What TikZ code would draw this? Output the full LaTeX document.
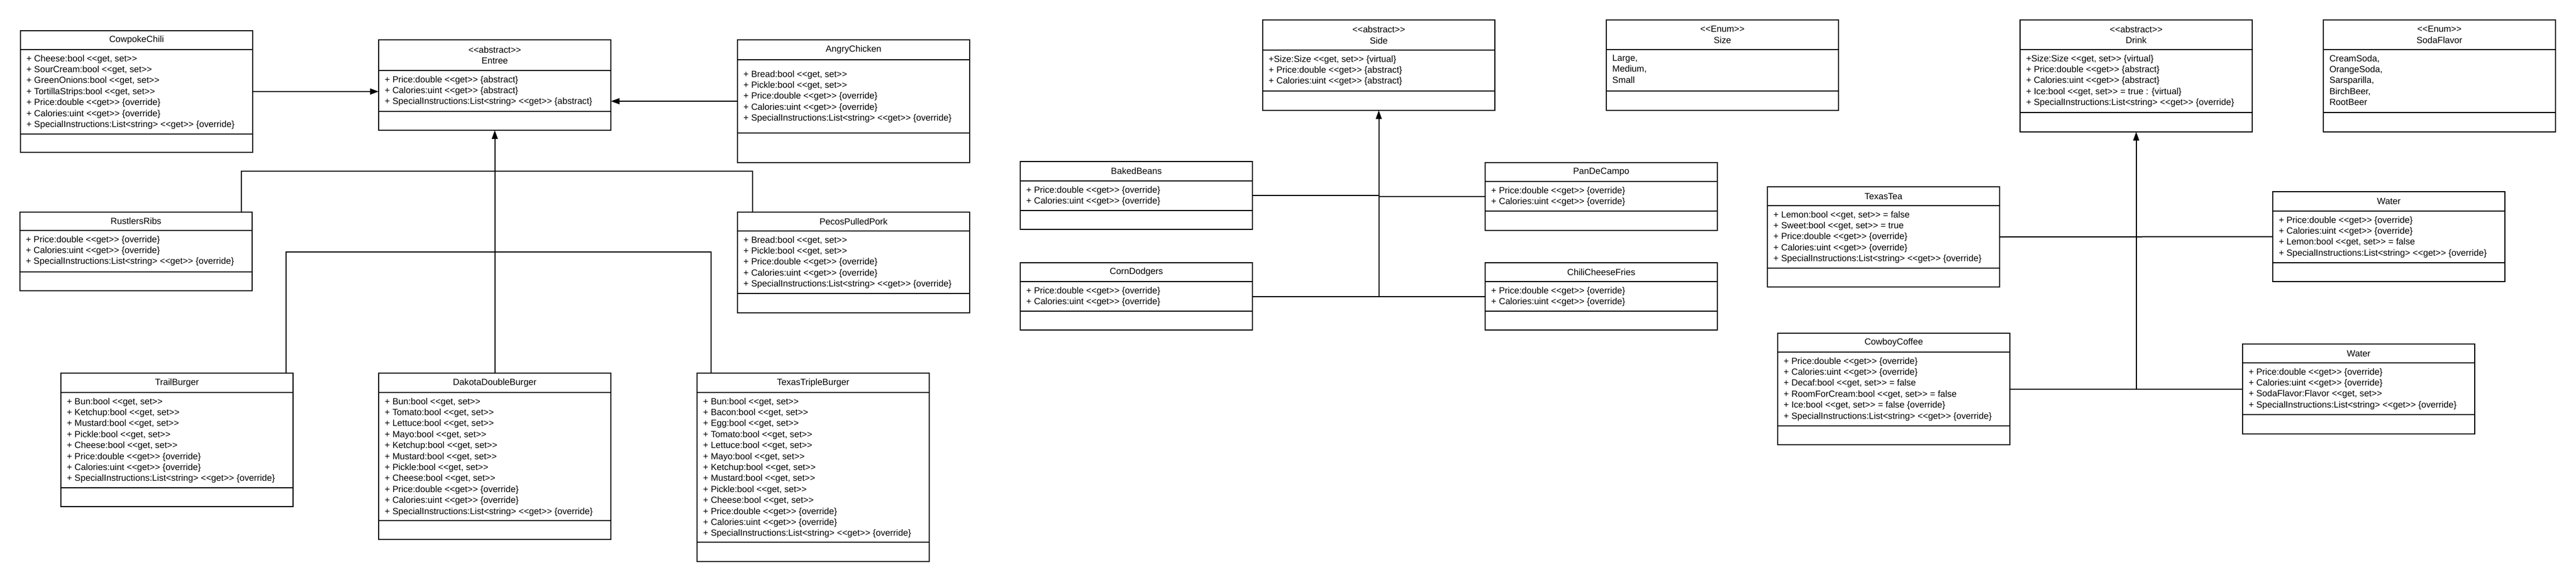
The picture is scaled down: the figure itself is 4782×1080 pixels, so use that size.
\documentclass[tikz,border=0pt]{standalone}
\usepackage{fontspec}
\newfontfamily\umlfont{Liberation Sans}
\usetikzlibrary{arrows.meta}

\tikzset{
  classbox/.style={draw, line width=2pt, minimum width=431pt, inner sep=0pt, outer sep=0pt},
  toprule/.style={line width=2pt},
  midrule/.style={line width=1.3pt},
  titletext/.style={font=\umlfont\fontsize{16.6}{20.4}\selectfont, align=center, inner sep=0pt},
  attrtext/.style={font=\umlfont\fontsize{16.6}{20.4}\selectfont, align=left, anchor=north west, inner sep=0pt},
  link/.style={line width=2pt},
  inherit/.style={line width=2pt, -{Triangle[length=16pt,width=11pt]}},
}

% [pad]{name}{x}{y}{title h}{attr h}{total h}{title}{attributes}
\newcommand{\umlclass}[9][0]{%
  \node[classbox, minimum height=#7pt, anchor=north west] (#2) at (#3,#4) {};
  \draw[toprule] ([yshift=-#5pt]#2.north west) -- ([yshift=-#5pt]#2.north east);
  \draw[midrule] ([yshift=-#5pt-#6pt]#2.north west) -- ([yshift=-#5pt-#6pt]#2.north east);
  \node[titletext] (#2-t) at ([yshift=-#5pt/2]#2.north) {#8};
  \node[attrtext] (#2-a) at ([xshift=11pt,yshift=-#5pt-9.8pt-#1pt]#2.north west) {#9};
}

\begin{document}
\begin{tikzpicture}[x=1pt,y=-1pt]
  \path[use as bounding box, fill=white] (0,0) rectangle (4782,1080);

  % entrees
  \umlclass{cowpoke}{38}{57}{35}{157}{226}{CowpokeChili}{+ Cheese:bool <<get, set>>\\+ SourCream:bool <<get, set>>\\+ GreenOnions:bool <<get, set>>\\+ TortillaStrips:bool <<get, set>>\\+ Price:double <<get>> \{override\}\\+ Calories:uint <<get>> \{override\}\\+ SpecialInstructions:List<string> <<get>> \{override\}}
  \umlclass{entree}{703}{74}{57}{76}{168}{<<abstract>>\\Entree}{+ Price:double <<get>> \{abstract\}\\+ Calories:uint <<get>> \{abstract\}\\+ SpecialInstructions:List<string> <<get>> \{abstract\}}
  \umlclass[10]{angry}{1369}{74}{37}{136}{228}{AngryChicken}{+ Bread:bool <<get, set>>\\+ Pickle:bool <<get, set>>\\+ Price:double <<get>> \{override\}\\+ Calories:uint <<get>> \{override\}\\+ SpecialInstructions:List<string> <<get>> \{override\}}
  \umlclass{ribs}{37}{394}{34}{77}{146}{RustlersRibs}{+ Price:double <<get>> \{override\}\\+ Calories:uint <<get>> \{override\}\\+ SpecialInstructions:List<string> <<get>> \{override\}}
  \umlclass{pecos}{1369}{394}{35}{116}{187}{PecosPulledPork}{+ Bread:bool <<get, set>>\\+ Pickle:bool <<get, set>>\\+ Price:double <<get>> \{override\}\\+ Calories:uint <<get>> \{override\}\\+ SpecialInstructions:List<string> <<get>> \{override\}}
  \umlclass{trail}{113}{693}{36}{177}{248}{TrailBurger}{+ Bun:bool <<get, set>>\\+ Ketchup:bool <<get, set>>\\+ Mustard:bool <<get, set>>\\+ Pickle:bool <<get, set>>\\+ Cheese:bool <<get, set>>\\+ Price:double <<get>> \{override\}\\+ Calories:uint <<get>> \{override\}\\+ SpecialInstructions:List<string> <<get>> \{override\}}
  \umlclass{dakota}{703}{693}{36}{238}{309}{DakotaDoubleBurger}{+ Bun:bool <<get, set>>\\+ Tomato:bool <<get, set>>\\+ Lettuce:bool <<get, set>>\\+ Mayo:bool <<get, set>>\\+ Ketchup:bool <<get, set>>\\+ Mustard:bool <<get, set>>\\+ Pickle:bool <<get, set>>\\+ Cheese:bool <<get, set>>\\+ Price:double <<get>> \{override\}\\+ Calories:uint <<get>> \{override\}\\+ SpecialInstructions:List<string> <<get>> \{override\}}
  \umlclass{texastriple}{1294}{693}{36}{278}{350}{TexasTripleBurger}{+ Bun:bool <<get, set>>\\+ Bacon:bool <<get, set>>\\+ Egg:bool <<get, set>>\\+ Tomato:bool <<get, set>>\\+ Lettuce:bool <<get, set>>\\+ Mayo:bool <<get, set>>\\+ Ketchup:bool <<get, set>>\\+ Mustard:bool <<get, set>>\\+ Pickle:bool <<get, set>>\\+ Cheese:bool <<get, set>>\\+ Price:double <<get>> \{override\}\\+ Calories:uint <<get>> \{override\}\\+ SpecialInstructions:List<string> <<get>> \{override\}}

  \coordinate (ribsjoin) at (919,318);
  \coordinate (burgerjoin) at (919,468);
  \draw[inherit] (cowpoke.east) -- (cowpoke.east -| entree.west);
  \draw[inherit] (angry.west) -- (angry.west -| entree.east);
  \draw[inherit] (dakota.north) -- (entree.south);
  \draw[link] ([xshift=-20pt]ribs.north east) |- (ribsjoin) -| ([xshift=28pt]pecos.north west);
  \draw[link] ([xshift=-13pt]trail.north east) |- (burgerjoin) -| ([xshift=26pt]texastriple.north west);

  % sides
  \umlclass{side}{2344}{37}{56}{76}{168}{<<abstract>>\\Side}{+Size:Size <<get, set>> \{virtual\}\\+ Price:double <<get>> \{abstract\}\\+ Calories:uint <<get>> \{abstract\}}
  \umlclass{size}{2982}{37}{55}{77}{168}{<<Enum>>\\Size}{Large,\\Medium,\\Small}
  \umlclass{beans}{1894}{300}{36}{55}{126}{BakedBeans}{+ Price:double <<get>> \{override\}\\+ Calories:uint <<get>> \{override\}}
  \umlclass{campo}{2757}{302}{35}{55}{126}{PanDeCampo}{+ Price:double <<get>> \{override\}\\+ Calories:uint <<get>> \{override\}}
  \umlclass{dodgers}{1894}{488}{35}{55}{125}{CornDodgers}{+ Price:double <<get>> \{override\}\\+ Calories:uint <<get>> \{override\}}
  \umlclass{fries}{2757}{488}{35}{55}{125}{ChiliCheeseFries}{+ Price:double <<get>> \{override\}\\+ Calories:uint <<get>> \{override\}}

  \coordinate (sidejoin) at (side.south |- dodgers.east);
  \draw[inherit] (sidejoin) -- (side.south);
  \draw[link] (dodgers.east) -- (fries.west);
  \draw[link] (beans.east) -- (beans.east -| side.south);
  \draw[link] (campo.west) -- (campo.west -| side.south);

  % drinks
  \umlclass{drink}{3750}{37}{55}{117}{208}{<<abstract>>\\Drink}{+Size:Size <<get, set>> \{virtual\}\\+ Price:double <<get>> \{abstract\}\\+ Calories:uint <<get>> \{abstract\}\\+ Ice:bool <<get, set>> = true : \{virtual\}\\+ SpecialInstructions:List<string> <<get>> \{override\}}
  \umlclass{soda}{4313}{37}{55}{117}{208}{<<Enum>>\\SodaFlavor}{CreamSoda,\\OrangeSoda,\\Sarsparilla,\\BirchBeer,\\RootBeer}
  \umlclass{tea}{3281}{347}{35}{116}{186}{TexasTea}{+ Lemon:bool <<get, set>> = false\\+ Sweet:bool <<get, set>> = true\\+ Price:double <<get>> \{override\}\\+ Calories:uint <<get>> \{override\}\\+ SpecialInstructions:List<string> <<get>> \{override\}}
  \umlclass{water}{4219}{356}{36}{96}{167}{Water}{+ Price:double <<get>> \{override\}\\+ Calories:uint <<get>> \{override\}\\+ Lemon:bool <<get, set>> = false\\+ SpecialInstructions:List<string> <<get>> \{override\}}
  \umlclass{coffee}{3300}{619}{35}{137}{207}{CowboyCoffee}{+ Price:double <<get>> \{override\}\\+ Calories:uint <<get>> \{override\}\\+ Decaf:bool <<get, set>> = false\\+ RoomForCream:bool <<get, set>> = false\\+ Ice:bool <<get, set>> = false \{override\}\\+ SpecialInstructions:List<string> <<get>> \{override\}}
  \umlclass{waterb}{4163}{639}{35}{96}{167}{Water}{+ Price:double <<get>> \{override\}\\+ Calories:uint <<get>> \{override\}\\+ SodaFlavor:Flavor <<get, set>>\\+ SpecialInstructions:List<string> <<get>> \{override\}}

  \coordinate (drinkjoin) at (drink.south |- coffee.east);
  \draw[inherit] (drinkjoin) -- (drink.south);
  \draw[link] (coffee.east) -- (waterb.west);
  \draw[link] (tea.east) -- (water.west);
\end{tikzpicture}
\end{document}
